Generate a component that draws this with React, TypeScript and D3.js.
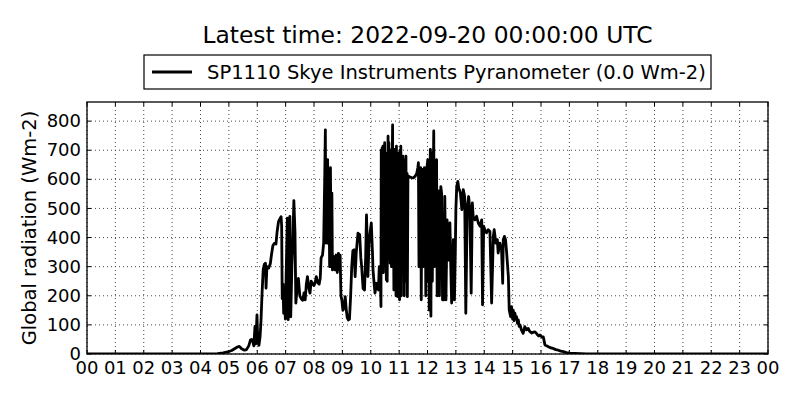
import React from "react";
import * as d3 from "d3";

// ---- data: [hour UTC, global radiation W m-2] ----
const nightAndDawn: [number, number][] = [
  [0, 0], [4.0, 0], [4.4, 0], [4.6, 1], [4.8, 4], [4.95, 7], [5.1, 12], [5.2, 18], [5.3, 24], [5.37, 26],
  [5.45, 18], [5.55, 13], [5.62, 15], [5.7, 28], [5.76, 48], [5.8, 50], [5.85, 40], [5.88, 28], [5.92, 95], [5.95, 35],
  [5.99, 134], [6.02, 40], [6.06, 30], [6.1, 60], [6.13, 110], [6.17, 210], [6.21, 290], [6.25, 308], [6.29, 312], [6.31, 226],
  [6.34, 300], [6.4, 295], [6.46, 310], [6.5, 340], [6.55, 372], [6.6, 380], [6.66, 378], [6.7, 420], [6.75, 455], [6.8, 465],
];

const morning: [number, number][] = [
  [6.84, 472], [6.86, 440], [6.88, 190], [6.91, 240], [6.93, 140], [6.96, 200], [6.99, 120], [7.02, 280], [7.06, 467], [7.09, 118],
  [7.13, 460], [7.15, 473], [7.18, 128], [7.22, 300], [7.25, 370], [7.29, 527], [7.33, 420], [7.36, 175], [7.4, 220], [7.45, 260],
  [7.5, 200], [7.55, 190], [7.6, 185], [7.65, 210], [7.69, 186], [7.73, 240], [7.77, 266], [7.81, 230], [7.86, 209], [7.9, 250],
  [7.95, 240], [8.0, 235], [8.05, 250], [8.08, 266], [8.13, 245], [8.18, 240], [8.22, 260], [8.25, 330], [8.3, 340], [8.34, 381],
  [8.38, 620], [8.4, 770], [8.42, 381], [8.44, 600], [8.46, 550], [8.48, 668], [8.5, 380], [8.51, 400], [8.53, 600], [8.55, 300],
  [8.56, 380], [8.58, 640], [8.6, 300], [8.61, 420], [8.63, 553], [8.65, 289], [8.7, 335], [8.74, 289], [8.78, 340], [8.82, 280],
  [8.86, 346], [8.88, 289], [8.92, 340], [8.95, 200], [8.98, 186], [9.02, 150], [9.06, 160], [9.1, 197], [9.14, 150], [9.17, 125],
  [9.21, 117], [9.25, 120], [9.29, 197], [9.33, 300], [9.37, 355], [9.41, 358], [9.45, 266], [9.49, 350], [9.55, 415], [9.61, 410],
  [9.65, 330], [9.68, 300], [9.73, 225], [9.78, 220], [9.82, 330], [9.85, 478], [9.88, 370], [9.9, 266], [9.94, 381], [9.98, 420],
  [10.02, 450], [10.06, 350], [10.08, 289], [10.12, 240], [10.15, 209], [10.2, 243], [10.24, 230], [10.27, 220], [10.3, 300], [10.34, 250],
];

const midday: [number, number][] = [
  [10.36, 163], [10.37, 700], [10.385, 300], [10.4, 708], [10.415, 390], [10.43, 714], [10.445, 280], [10.46, 700], [10.475, 381], [10.49, 726],
  [10.505, 300], [10.52, 690], [10.535, 400], [10.55, 255], [10.565, 600], [10.58, 250], [10.595, 500], [10.61, 748], [10.625, 400], [10.64, 726],
  [10.655, 330], [10.67, 500], [10.685, 312], [10.7, 700], [10.715, 496], [10.73, 300], [10.75, 600], [10.77, 787], [10.785, 300], [10.8, 500],
  [10.815, 220], [10.83, 703], [10.845, 300], [10.86, 650], [10.875, 496], [10.89, 200], [10.905, 714], [10.92, 300], [10.935, 680], [10.95, 197],
  [10.965, 650], [10.98, 220], [11.0, 691], [11.015, 186], [11.03, 700], [11.045, 250], [11.06, 714], [11.075, 200], [11.09, 650], [11.11, 278],
  [11.13, 680], [11.145, 300], [11.16, 668], [11.18, 200], [11.2, 640], [11.22, 381], [11.24, 680], [11.26, 250], [11.28, 620], [11.29, 197],
  [11.31, 600], [11.33, 611], [11.38, 608], [11.44, 606], [11.5, 605], [11.56, 610], [11.62, 620], [11.66, 640], [11.68, 657], [11.7, 300],
  [11.72, 600], [11.74, 439], [11.76, 640], [11.78, 186], [11.8, 550], [11.82, 634], [11.845, 300], [11.87, 381], [11.89, 640], [11.92, 622],
  [11.94, 200], [11.96, 496], [11.98, 640], [12.01, 668], [12.03, 250], [12.05, 600], [12.06, 151], [12.08, 560], [12.1, 703], [12.12, 130],
  [12.14, 600], [12.15, 691], [12.17, 250], [12.19, 496], [12.22, 766], [12.24, 300], [12.25, 500], [12.27, 381], [12.29, 600], [12.32, 668],
  [12.34, 200], [12.37, 496], [12.4, 560], [12.42, 200], [12.43, 312], [12.45, 520], [12.47, 575], [12.5, 550], [12.53, 186], [12.56, 400],
];

const afternoon: [number, number][] = [
  [12.58, 186], [12.61, 541], [12.65, 186], [12.69, 461], [12.72, 380], [12.74, 323], [12.79, 450], [12.82, 300], [12.85, 175], [12.88, 300],
  [12.91, 393], [12.95, 186], [12.98, 350], [13.0, 496], [13.03, 576], [13.07, 593], [13.1, 570], [13.12, 565], [13.16, 553], [13.21, 496],
  [13.26, 565], [13.31, 541], [13.35, 140], [13.4, 507], [13.45, 541], [13.49, 496], [13.54, 209], [13.58, 519], [13.61, 473], [13.67, 461],
  [13.73, 473], [13.79, 450], [13.85, 439], [13.91, 461], [13.94, 169], [13.98, 439], [14.02, 427], [14.08, 416], [14.14, 427], [14.2, 421],
  [14.26, 175], [14.32, 404], [14.35, 427], [14.41, 381], [14.46, 393], [14.49, 347], [14.55, 381], [14.61, 358], [14.65, 243], [14.67, 393],
  [14.71, 404], [14.75, 393], [14.79, 347], [14.85, 266], [14.88, 151], [14.93, 128], [14.96, 163], [15.0, 120], [15.02, 151], [15.05, 115],
];

const evening: [number, number][] = [
  [15.08, 140], [15.11, 125], [15.14, 128], [15.17, 105], [15.2, 117], [15.23, 95], [15.26, 100], [15.31, 83], [15.37, 71], [15.43, 94],
  [15.49, 83], [15.55, 88], [15.6, 78], [15.67, 72], [15.73, 75], [15.79, 76], [15.86, 68], [15.92, 62], [15.96, 65], [16.03, 58],
  [16.08, 59], [16.11, 45], [16.14, 31], [16.2, 28], [16.26, 25], [16.35, 21], [16.43, 19], [16.52, 15], [16.61, 13], [16.7, 10],
  [16.79, 8], [16.9, 5], [17.02, 3], [17.2, 2], [17.4, 1], [17.6, 0], [24, 0],
];

const xTickHours: number[] = d3.range(0, 25, 1);
const yTickValues: number[] = [0, 100, 200, 300, 400, 500, 600, 700, 800];

const titleText = "Latest time: 2022-09-20 00:00:00 UTC";
const legendText = "SP1110 Skye Instruments Pyranometer (0.0 Wm-2)";
const yLabelText = "Global radiation (Wm-2)";

const W = 800;
const H = 400;
const M = { left: 87, right: 768, top: 102, bottom: 354 };
const FONT = "'DejaVu Sans', 'Liberation Sans', sans-serif";

export default function App() {
  const pts: [number, number][] = [...nightAndDawn, ...morning, ...midday, ...afternoon, ...evening];
  const yMax = (d3.max(pts, (d) => d[1]) as number) * 1.1;
  const x = d3.scaleLinear().domain([0, 24]).range([M.left, M.right]);
  const y = d3.scaleLinear().domain([0, yMax]).range([M.bottom, M.top]);
  const line = d3
    .line<[number, number]>()
    .x((d) => x(d[0]))
    .y((d) => y(d[1]));
  const tickLen = 4;

  return (
    <svg
      width={W}
      height={H}
      style={{ position: "absolute", left: 0, top: 0, background: "#fff" }}
      fontFamily={FONT}
    >
      <rect x={0} y={0} width={W} height={H} fill="#fff" />
      <defs>
        <clipPath id="plotclip">
          <rect x={M.left} y={M.top} width={M.right - M.left} height={M.bottom - M.top} />
        </clipPath>
      </defs>

      {/* grid */}
      <g stroke="#000" strokeWidth={0.9} strokeDasharray="1 3" opacity={0.8}>
        {xTickHours.map((h) => (
          <line key={"gx" + h} x1={x(h)} x2={x(h)} y1={M.top} y2={M.bottom} />
        ))}
        {yTickValues.map((v) => (
          <line key={"gy" + v} x1={M.left} x2={M.right} y1={y(v)} y2={y(v)} />
        ))}
      </g>

      {/* data line */}
      <path
        d={line(pts) || ""}
        fill="none"
        stroke="#000"
        strokeWidth={2.8}
        strokeLinejoin="round"
        clipPath="url(#plotclip)"
      />

      {/* ticks (inward, all sides) */}
      <g stroke="#000" strokeWidth={1}>
        {xTickHours.map((h) => (
          <g key={"tx" + h}>
            <line x1={x(h)} x2={x(h)} y1={M.bottom} y2={M.bottom - tickLen} />
            <line x1={x(h)} x2={x(h)} y1={M.top} y2={M.top + tickLen} />
          </g>
        ))}
        {yTickValues.map((v) => (
          <g key={"ty" + v}>
            <line x1={M.left} x2={M.left + tickLen} y1={y(v)} y2={y(v)} />
            <line x1={M.right} x2={M.right - tickLen} y1={y(v)} y2={y(v)} />
          </g>
        ))}
      </g>

      {/* frame */}
      <rect
        x={M.left}
        y={M.top}
        width={M.right - M.left}
        height={M.bottom - M.top}
        fill="none"
        stroke="#000"
        strokeWidth={1.3}
      />

      {/* tick labels */}
      <g fontSize={18} fill="#000">
        {xTickHours.map((h) => (
          <text key={"lx" + h} x={x(h)} y={374} textAnchor="middle">
            {d3.format("02d")(h % 24)}
          </text>
        ))}
        {yTickValues.map((v) => (
          <text key={"ly" + v} x={M.left - 6} y={y(v)} dy="0.34em" textAnchor="end">
            {v}
          </text>
        ))}
      </g>

      {/* y label */}
      <text
        transform={`translate(36, ${(M.top + M.bottom) / 2}) rotate(-90)`}
        textAnchor="middle"
        fontSize={19.5}
        fill="#000"
      >
        {yLabelText}
      </text>

      {/* title */}
      <text x={427.5} y={43} textAnchor="middle" fontSize={23.4} fill="#000">
        {titleText}
      </text>

      {/* legend */}
      <rect x={144} y={55} width={567} height={34} fill="#fff" stroke="#000" strokeWidth={1.2} />
      <line x1={152} x2={192} y1={72} y2={72} stroke="#000" strokeWidth={2.8} />
      <text x={207} y={79} fontSize={19.5} fill="#000">
        {legendText}
      </text>
    </svg>
  );
}
